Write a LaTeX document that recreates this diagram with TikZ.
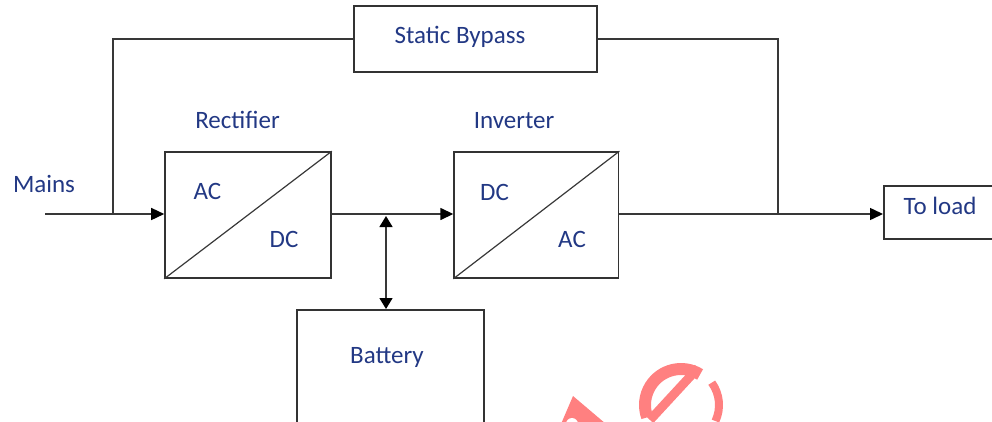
\documentclass[tikz,border=0pt]{standalone}
\usepackage{fontspec}
\setmainfont{Carlito}
\usetikzlibrary{arrows.meta,positioning}
\definecolor{labelblue}{RGB}{34,56,132}
\definecolor{wmred}{RGB}{255,128,128}

\begin{document}
\begin{tikzpicture}[x=1pt, y=-1pt,
    box/.style = {draw=black!80, line width=1.6pt, inner sep=0pt},
    lbl/.style = {text=labelblue, font=\fontsize{25pt}{30pt}\selectfont, inner sep=0pt, anchor=base},
    wire/.style = {draw=black!78, line width=1.5pt},
    arr/.style = {wire, -{Triangle[length=13pt,width=12pt,color=black]}},
    wm/.style = {fill=wmred, draw=none}]
    \path[use as bounding box, clip] (0,0) rectangle (992,421);

    % converter blocks
    \node[box, minimum width=166pt, minimum height=126pt] (rect) at (248,215) {};
    \node[box, minimum width=164.5pt, minimum height=126pt, right=121.5pt of rect] (inv) {};
    \node[box, minimum width=243pt, minimum height=66pt] (bypass) at (475.5,39) {};
    \node[box, minimum width=187pt, minimum height=140pt, anchor=north] (battery) at (390.5,309) {};
    \node[box, minimum width=120pt, minimum height=53pt, anchor=west] (load) at (883,212.5) {};

    \draw[wire, line width=1.2pt] (rect.south west) -- (rect.north east);
    \draw[wire, line width=1.2pt] (inv.south west) -- (inv.north east);

    % texts
    \node[lbl] (mainslbl) at (44,192) {Mains};
    \node[lbl] (rectlbl) at (237.5,128) {Rectifier};
    \node[lbl] (invlbl) at (514,128) {Inverter};
    \node[lbl] (bypasslbl) at (460,43) {Static Bypass};
    \node[lbl] (batterylbl) at (387,363) {Battery};
    \node[lbl] (loadlbl) at (940,214) {To load};
    \node[lbl] (rectac) at (207.5,199) {AC};
    \node[lbl] (rectdc) at (284,247) {DC};
    \node[lbl] (invdc) at (494.5,200) {DC};
    \node[lbl] (invac) at (572,247) {AC};

    \coordinate (mainsin) at (45,214);
    \coordinate (bypin) at (113,214);
    \coordinate (batj) at (386,214);
    \coordinate (bypout) at (778,214);

    % power path
    \draw[arr] (mainsin) -- (mainsin -| rect.west);
    \draw[wire] (bypin) |- (bypass.west);
    \draw[wire] (bypass.east) -| (bypout);
    \draw[arr] (mainsin -| rect.east) -- (mainsin -| inv.west);
    \draw[wire, {Triangle[length=11pt,width=13pt,color=black]}-{Triangle[length=11pt,width=13pt,color=black]}, shorten <=2pt] (batj) -- (batj |- battery.north);
    \draw[arr] (mainsin -| inv.east) -- (mainsin -| load.west);

    % watermark fragment
    \fill[wm] (573,396) -- (606,424) -- (561,424) -- cycle;
    \fill[white] (572,424) circle[radius=6];
    \draw[wmred, line width=12pt] (681,405) ++(-58:36) arc[start angle=-58, end angle=-200, radius=36];
    \draw[wmred, line width=9pt] (698,368) -- (650,420);
    \draw[wmred, line width=8pt] (681,405) ++(-36:38) arc[start angle=-36, end angle=25, radius=38];
\end{tikzpicture}
\end{document}
